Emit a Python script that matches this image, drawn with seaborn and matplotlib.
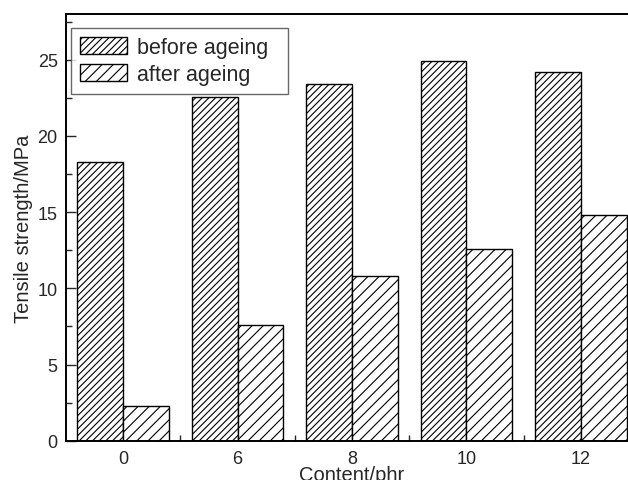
import matplotlib
matplotlib.use("Agg")
import matplotlib.pyplot as plt
import seaborn as sns
import pandas as pd
from matplotlib.ticker import MultipleLocator, FixedLocator

categories = ["0", "6", "8", "10", "12"]
before_ageing = [18.3, 22.55, 23.4, 24.9, 24.2]
after_ageing = [2.3, 7.6, 10.8, 12.6, 14.8]
series_names = ["before ageing", "after ageing"]

df = pd.DataFrame({
    "Content": categories * 2,
    "Value": before_ageing + after_ageing,
    "Condition": [series_names[0]] * len(categories) + [series_names[1]] * len(categories),
})

sns.set_theme(style="white")
plt.rcParams["font.family"] = ["Liberation Sans", "DejaVu Sans"]
plt.rcParams["hatch.linewidth"] = 0.8
plt.rcParams["hatch.color"] = "#222222"

fig = plt.figure(figsize=(6.28, 4.81), dpi=100)
ax = fig.add_axes([66 / 628, 1 - 441.7 / 481, (638 - 66) / 628, (441.7 - 15) / 481])

sns.barplot(data=df, x="Content", y="Value", hue="Condition", order=categories,
            hue_order=series_names, palette=["white", "white"], edgecolor="black",
            linewidth=1.0, width=0.8, ax=ax, legend=False)

hatches = ["/////", "///"]
for cont, h in zip(ax.containers, hatches):
    for p in cont.patches:
        p.set_hatch(h)
        p.set_edgecolor("black")

ax.set_ylim(0, 28)
ax.set_xlim(-0.5, len(categories) - 0.5)
ax.yaxis.set_major_locator(MultipleLocator(5))
ax.yaxis.set_minor_locator(MultipleLocator(2.5))
ax.xaxis.set_minor_locator(FixedLocator([i + 0.5 for i in range(len(categories) - 1)]))
ax.tick_params(axis="y", which="major", direction="in", length=7, width=1.0, labelsize=13, left=True, pad=6)
ax.tick_params(axis="y", which="minor", direction="in", length=4, width=1.0, left=True)
ax.tick_params(axis="x", which="major", length=0, labelsize=13, pad=7)
ax.tick_params(axis="x", which="minor", direction="in", length=4, width=1.0, bottom=True)

for s in ["left", "bottom", "top", "right"]:
    ax.spines[s].set_color("black")
    ax.spines[s].set_linewidth(1.4)

ax.set_xlabel("Content/phr", fontsize=14.5, labelpad=-2)
ax.set_ylabel("Tensile strength/MPa", fontsize=14.5, labelpad=3)

leg = ax.legend(ax.containers, series_names, loc="upper left",
                bbox_to_anchor=(0.0087, 0.824, 0.379, 0.143), mode="expand",
                borderaxespad=0, fontsize=15.5,
                frameon=True, fancybox=False, edgecolor="#444444",
                handlelength=2.2, handleheight=0.85, handletextpad=0.45,
                labelspacing=0.3, borderpad=0.4)
leg.get_frame().set_linewidth(1.0)

fig.savefig("out.png", dpi=100)
